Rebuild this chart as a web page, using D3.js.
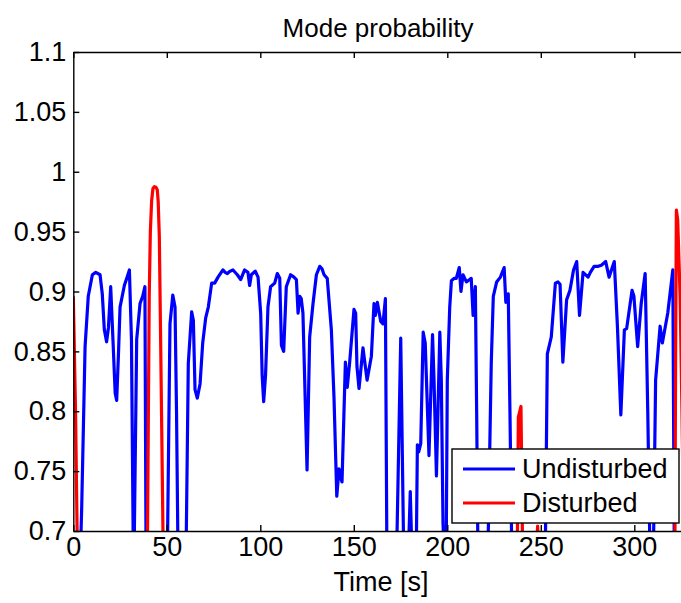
<!DOCTYPE html>
<html>
<head>
<meta charset="utf-8">
<script src="https://cdn.jsdelivr.net/npm/d3@7"></script>
<style>
  body { margin: 0; background: #fff; }
  text { font-family: "Liberation Sans", Arial, Helvetica, sans-serif; fill: #000; }
</style>
</head>
<body>
<div id="chart"></div>
<script>
// legend / series
const seriesNames = ['Undisturbed', 'Disturbed'];
const seriesColors = ['#0000ff', '#ff0000'];

// tick labels
const xTicks = [0, 50, 100, 150, 200, 250, 300];
const yTicks = [0.7, 0.75, 0.8, 0.85, 0.9, 0.95, 1, 1.05, 1.1];
const yTickLabels = ['0.7', '0.75', '0.8', '0.85', '0.9', '0.95', '1', '1.05', '1.1'];

// undisturbed mode probability (null = gap, values < 0.7 fall below the axes)
const undisturbedTime = [
  3.8, 4.5, 6.3, 8, 10.2, 12, 14.3, 15.5, 16.6, 17.8, 18.8, 20, 21.2, 22.4, 23.2, 24.2, 25, 27.3, 28.8, 30, 31.1, 32.1, null,
  32.5, 33.9, 35.7, 37.1, 38.3, 38.9, null,
  50.3, 51.7, 53.2, 54.4, 55.2, 56, null,
  60.3, 61.5, 63.3, 64.2, 65.1, 66.3, 67.8, 69.2, 70.8, 72.2, 74, 75.6, 77.4, 80, 81.2, 82.4, 83.8, 85.4, 87.7, 89.5, 91.6, 93.4, 94.3, 95.2, 97.3, 98.8,
  100.2, 101, 101.8, 102.8, 104.1, 105.5, 107.7, 109.1, 110.4, 111.3, 112.5, 113.9, 116.2, 118, 119.3, 120.2, 121.1, 121.9, 122.8, 125, 126.4, 128.2,
  130, 131.8, 133, 134.1, 135.8, 138, 139.4, 140.9, 142.1, 142.9, 143.7, 145.5, 146.5, 147.8, 150.1, 151, 151.7, 152.8, 154.9, 157.1, 159.4, 160.8,
  161.5, 162.6, 164.4, 165.6, 166.9, 167.7, null,
  172.9, 175.1, 176.7, null,
  179.2, 180.2, 181.1, null,
  183.4, 184, 184.7, 185.8, 187.1, 188.2, 190.2, 192.1, 192.9, 194.2, 196, 196.8, 197.7, 198.3, null,
  199.4, 200, 201.3, 202.2, 203.6, 204.8, 206.4, 207.3, 208.4, 210.2, 212.8, 213.8, 215, 215.7, 216.4, null,
  221.7, 223.5, 224.6, 226.4, 228.4, 230.4, 231.3, 232.6, 233.5, 234.5, null,
  252.4, 253.5, 255.6, 257.8, 259.2, 260.3, 261.8, 263.8, 265.6, 267.5, 269.2, 270.7, 272.6, 275.3, 276.5, 278.5, 280.7, 282.4, 284.7, 286.5, 289.3,
  291, 292.8, 294.7, 295.9, 298.8, 299.8, 301.8, 303.7, 305.8, 307.2, 308.4, null,
  310.2, 311.4, 313.8, 315, 317.9, 320.6, 321.4
];
const undisturbedValue = [
  0.68, 0.72, 0.854, 0.896, 0.914, 0.916, 0.914, 0.898, 0.868, 0.858, 0.87, 0.904, 0.86, 0.815, 0.809, 0.85, 0.887, 0.905, 0.912, 0.918, 0.86, 0.68, null,
  0.68, 0.86, 0.89, 0.896, 0.904, 0.68, null,
  0.68, 0.873, 0.897, 0.887, 0.8, 0.68, null,
  0.68, 0.84, 0.883, 0.876, 0.818, 0.811, 0.823, 0.857, 0.878, 0.887, 0.907, 0.907, 0.912, 0.918, 0.916, 0.915, 0.917, 0.918, 0.914, 0.91, 0.918, 0.916, 0.905, 0.914, 0.917, 0.912,
  0.882, 0.83, 0.808, 0.83, 0.887, 0.904, 0.907, 0.915, 0.911, 0.855, 0.85, 0.904, 0.914, 0.912, 0.91, 0.882, 0.896, 0.894, 0.882, 0.751, 0.862, 0.89,
  0.914, 0.921, 0.919, 0.914, 0.911, 0.868, 0.812, 0.729, 0.752, 0.745, 0.741, 0.841, 0.82, 0.841, 0.885, 0.882, 0.837, 0.819, 0.853, 0.826, 0.846, 0.89,
  0.88, 0.891, 0.875, 0.873, 0.894, 0.68, null,
  0.68, 0.861, 0.68, null,
  0.68, 0.733, 0.68, null,
  0.68, 0.772, 0.766, 0.773, 0.866, 0.857, 0.763, 0.864, 0.826, 0.746, 0.866, 0.826, 0.707, 0.68, null,
  0.68, 0.826, 0.887, 0.909, 0.911, 0.911, 0.92, 0.9, 0.914, 0.908, 0.911, 0.88, 0.904, 0.8, 0.68, null,
  0.68, 0.84, 0.896, 0.908, 0.912, 0.92, 0.891, 0.898, 0.8, 0.68, null,
  0.68, 0.848, 0.862, 0.907, 0.908, 0.906, 0.841, 0.893, 0.901, 0.918, 0.925, 0.88, 0.916, 0.912, 0.916, 0.921, 0.921, 0.922, 0.925, 0.912, 0.925,
  0.87, 0.797, 0.868, 0.869, 0.901, 0.896, 0.854, 0.89, 0.915, 0.8, 0.68, null,
  0.68, 0.826, 0.871, 0.857, 0.882, 0.918, 0.68
];

// disturbed mode probability
const disturbedTime = [
  0, 1.2, 2.2, null,
  39.6, 40.6, 41.2, 41.9, 42.6, 43.3, 44.2, 44.9, 45.4, 46, 46.7, 47.3, 48.1, null,
  237.4, 238, 239.4, 240.3, null,
  247.4, 248.3, 249.2, null,
  321.7, 322.1, 322.5, 323.2, 324.5, 325.5, 326.5
];
const disturbedValue = [
  0.896, 0.8, 0.68, null,
  0.68, 0.896, 0.95, 0.976, 0.986, 0.9875, 0.987, 0.985, 0.975, 0.946, 0.86, 0.784, 0.68, null,
  0.68, 0.795, 0.804, 0.68, null,
  0.68, 0.704, 0.68, null,
  0.68, 0.85, 0.968, 0.96, 0.896, 0.8, 0.68
];

const width = 681;
const height = 603;
const plot = { left: 73.3, right: 690.4, top: 52, bottom: 531 };

const svg = d3.select('#chart')
  .append('svg')
  .attr('width', width)
  .attr('height', height)
  .style('display', 'block');

const x = d3.scaleLinear()
  .domain([0, 330])
  .range([plot.left, plot.right]);

const y = d3.scaleLinear()
  .domain([0.7, 1.1])
  .range([plot.bottom, plot.top]);

svg.append('clipPath')
  .attr('id', 'plot-clip')
  .append('rect')
  .attr('x', plot.left)
  .attr('y', plot.top)
  .attr('width', plot.right - plot.left)
  .attr('height', plot.bottom - plot.top);

const line = d3.line()
  .defined(d => d.v !== null)
  .x(d => x(d.t))
  .y(d => y(d.v));

const series = [
  undisturbedTime.map((t, i) => ({ t: t, v: undisturbedValue[i] })),
  disturbedTime.map((t, i) => ({ t: t, v: disturbedValue[i] }))
];

svg.append('g')
  .attr('clip-path', 'url(#plot-clip)')
  .selectAll('path')
  .data(series)
  .join('path')
  .attr('d', line)
  .attr('fill', 'none')
  .attr('stroke', (d, i) => seriesColors[i])
  .attr('stroke-width', 3.2)
  .attr('stroke-linejoin', 'round');

function styleAxis(g) {
  g.attr('font-size', 27)
    .attr('font-family', '"Liberation Sans", Arial, Helvetica, sans-serif');
  g.selectAll('path, line').attr('stroke', '#000').attr('stroke-width', 1.4);
}

// left axis, ticks pointing in
svg.append('g')
  .attr('transform', `translate(${plot.left},0)`)
  .call(d3.axisLeft(y)
    .tickValues(yTicks)
    .tickFormat((d, i) => yTickLabels[i])
    .tickSizeInner(-6)
    .tickSizeOuter(0)
    .tickPadding(7))
  .call(styleAxis);

// bottom axis
svg.append('g')
  .attr('transform', `translate(0,${plot.bottom})`)
  .call(d3.axisBottom(x)
    .tickValues(xTicks)
    .tickSizeInner(-6)
    .tickSizeOuter(0)
    .tickPadding(6))
  .call(styleAxis);

// top axis, no labels
svg.append('g')
  .attr('transform', `translate(0,${plot.top})`)
  .call(d3.axisTop(x)
    .tickValues(xTicks)
    .tickFormat('')
    .tickSizeInner(-6)
    .tickSizeOuter(0))
  .call(styleAxis);

svg.append('text')
  .attr('x', 378)
  .attr('y', 37)
  .attr('text-anchor', 'middle')
  .attr('font-size', 26)
  .text('Mode probability');

svg.append('text')
  .attr('x', 381)
  .attr('y', 591)
  .attr('text-anchor', 'middle')
  .attr('font-size', 27)
  .text('Time [s]');

// legend
const legend = svg.append('g').attr('transform', 'translate(452,449)');

legend.append('rect')
  .attr('width', 227)
  .attr('height', 74)
  .attr('fill', '#fff')
  .attr('stroke', '#000')
  .attr('stroke-width', 1.4);

const item = legend.selectAll('g')
  .data(seriesNames)
  .join('g')
  .attr('transform', (d, i) => `translate(0,${20 + i * 34})`);

item.append('line')
  .attr('x1', 11)
  .attr('x2', 63)
  .attr('stroke', (d, i) => seriesColors[i])
  .attr('stroke-width', 3.2);

item.append('text')
  .attr('x', 70)
  .attr('dy', '0.35em')
  .attr('font-size', 27)
  .text(d => d);
</script>
</body>
</html>
